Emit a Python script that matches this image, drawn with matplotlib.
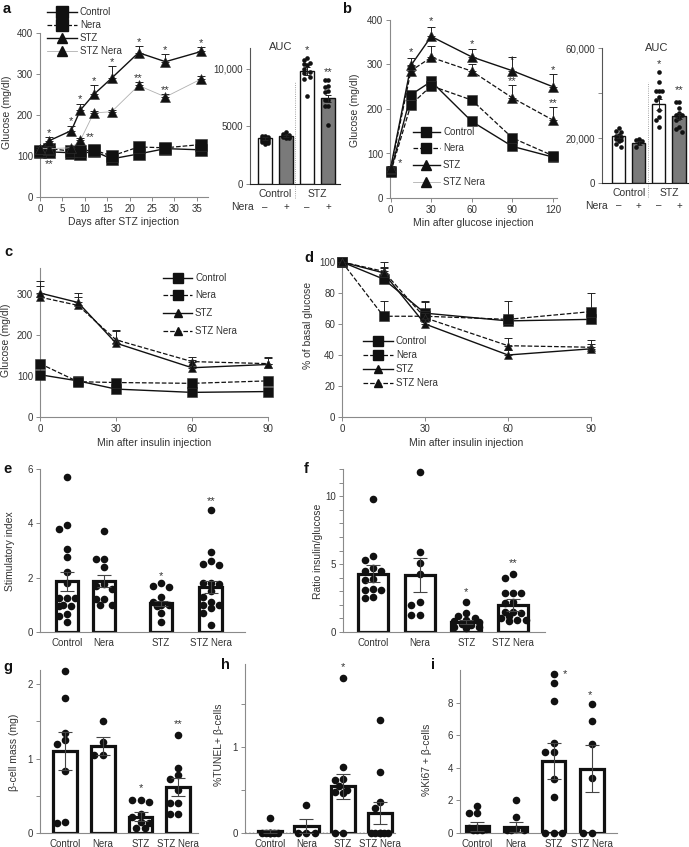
import matplotlib
matplotlib.use('Agg')
import matplotlib.pyplot as plt
import numpy as np
from matplotlib.lines import Line2D

plt.rcParams['font.family'] = ['Liberation Sans', 'DejaVu Sans']
plt.rcParams['font.size'] = 7
W, H = 689, 847
TXT = '#333333'
INK = '#111111'

# ---------------- data ----------------
groups = ['Control', 'Nera', 'STZ', 'STZ Nera']

# a: glucose after STZ
a_days = [0, 2, 7, 9, 12, 16, 22, 28, 36]
a_ctrl = [110, 110, 108, 105, 112, 93, 105, 118, 115]
a_nera = [112, 118, 112, 112, 115, 100, 122, 120, 128]
a_stz = [118, 137, 162, 212, 250, 290, 352, 330, 355]
a_stz_err = [5, 10, 12, 16, 22, 30, 16, 18, 10]
a_stzn = [118, 118, 120, 138, 205, 208, 272, 244, 288]
a_stzn_err = [3, 4, 4, 5, 5, 5, 8, 8, 8]
a_auc_mean = [3950, 4200, 9800, 7450]
a_auc_err = [100, 80, 330, 300]
a_auc_dots = [
    [4200, 4150, 4050, 4000, 3950, 3900, 3850, 3800, 3750, 3700, 3650, 3550, 3500],
    [4500, 4350, 4250, 4200, 4150, 4100, 4100, 4050, 4000, 3950],
    [10900, 10800, 10500, 10400, 10300, 10000, 9700, 9600, 9300, 9100, 7600],
    [9050, 9000, 8500, 8450, 8050, 8000, 7300, 7250, 6800, 6750, 5150],
]

# b: glucose tolerance
b_min = [0, 15, 30, 60, 90, 120]
b_ctrl = [60, 232, 262, 172, 116, 92]
b_nera = [58, 210, 252, 220, 135, 95]
b_nera_err = [0, 0, 0, 10, 0, 0]
b_stz = [68, 298, 363, 317, 286, 250]
b_stz_err = [5, 17, 22, 17, 30, 29]
b_stzn = [65, 286, 316, 285, 225, 175]
b_stzn_err = [4, 10, 25, 16, 29, 29]
b_auc_mean = [20700, 17800, 35000, 29600]
b_auc_err = [700, 900, 2500, 1300]
b_auc_dots = [
    [24500, 23000, 22500, 21500, 21000, 20500, 20000, 19500, 19000, 18500, 17500, 16000],
    [19500, 19200, 18800, 17600, 16000],
    [49300, 44900, 40900, 40900, 40900, 38200, 36700, 32300, 29300, 27900, 24900],
    [36000, 36000, 33500, 31000, 30000, 30000, 28800, 27900, 24900, 24200, 22700],
]

# c: insulin tolerance (mg/dl)
c_min = [0, 15, 30, 60, 90]
c_ctrl = [103, 88, 68, 60, 62]
c_nera = [130, 86, 84, 82, 88]
c_stz = [302, 279, 180, 120, 128]
c_stz_err = [30, 22, 30, 18, 18]
c_stzn = [292, 272, 188, 135, 130]
c_stzn_err = [28, 20, 24, 12, 14]

# d: insulin tolerance (% of basal)
d_min = [0, 15, 30, 60, 90]
d_ctrl = [100, 89, 67, 62, 63]
d_ctrl_err = [0, 11, 8, 2, 2]
d_nera = [100, 65, 65, 63, 68]
d_nera_err = [0, 10, 9, 12, 12]
d_stz = [100, 93, 60, 40, 44]
d_stz_err = [0, 3, 3, 3, 3]
d_stzn = [100, 94, 64, 46, 45]
d_stzn_err = [0, 3, 3, 5, 5]

# e: stimulatory index
e_mean = [1.86, 1.88, 1.05, 1.65]
e_err = [0.35, 0.22, 0.1, 0.22]
e_dots = [
    [5.7, 3.8, 3.95, 3.05, 2.75, 2.2, 1.8, 1.25, 1.25, 1.25, 0.95, 0.95, 1.0, 0.65, 0.6, 0.35],
    [3.7, 2.7, 2.7, 2.4, 1.75, 1.7, 1.6, 1.2, 1.2, 1.0, 1.0],
    [1.8, 1.7, 1.65, 1.3, 1.1, 1.0, 1.0, 0.95, 0.7, 0.35],
    [4.5, 2.95, 2.6, 2.5, 2.45, 1.8, 1.8, 1.75, 1.5, 1.3, 1.1, 1.0, 1.0, 0.9, 0.7, 0.25],
]
e_stars = ['', '', '*', '**']

# f: insulin/glucose ratio
f_mean = [4.3, 4.2, 0.72, 2.0]
f_err = [0.6, 1.25, 0.15, 0.45]
f_dots = [
    [9.8, 5.6, 5.3, 4.7, 4.5, 4.5, 3.9, 3.8, 3.1, 3.1, 3.2, 2.5, 2.6],
    [11.8, 5.9, 5.1, 4.3, 2.2, 2.0, 1.25, 1.25],
    [2.2, 1.4, 1.2, 1.0, 0.9, 0.8, 0.7, 0.6, 0.5, 0.4, 0.35, 0.3],
    [4.3, 4.0, 2.9, 2.85, 2.9, 2.2, 2.1, 1.5, 1.5, 1.4, 1.2, 1.0, 0.9, 0.9, 0.8],
]
f_stars = ['', '', '*', '**']

# g: beta-cell mass
g_mean = [1.1, 1.17, 0.22, 0.62]
g_err = [0.26, 0.12, 0.06, 0.12]
g_dots = [
    [2.17, 1.82, 1.35, 1.2, 1.25, 0.83, 0.13, 0.15],
    [1.5, 1.22, 1.05, 1.05],
    [0.45, 0.44, 0.41, 0.25, 0.22, 0.15, 0.13, 0.07, 0.07],
    [1.32, 0.88, 0.78, 0.72, 0.58, 0.4, 0.4, 0.26, 0.26],
]
g_stars = ['', '', '*', '**']

# h: TUNEL
h_mean = [0.02, 0.08, 0.54, 0.23]
h_err = [0.02, 0.08, 0.14, 0.13]
h_dots = [
    [0.17, 0, 0, 0, 0, 0, 0, 0],
    [0.33, 0, 0, 0],
    [1.8, 0.76, 0.63, 0.62, 0.55, 0.5, 0.48, 0.46, 0, 0],
    [1.31, 0.71, 0.36, 0.29, 0, 0, 0, 0, 0, 0],
]
h_stars = ['', '', '*', '']

# i: Ki67
i_mean = [0.4, 0.35, 4.4, 3.95]
i_err = [0.3, 0.3, 1.1, 1.45]
i_dots = [
    [1.65, 1.2, 1.2, 0.3, 0.3, 0.25, 0.2, 0.2, 0.2],
    [2.0, 1.0, 0.25, 0.2, 0.2, 0.2],
    [9.75, 9.2, 8.1, 5.5, 5.0, 5.0, 3.3, 2.2, 0, 0, 0],
    [7.9, 6.9, 5.45, 3.4, 0, 0],
]


# ---------------- helpers ----------------
def fx(x):
    return x / W


def fy(y):
    return 1 - y / H


def px_axes(fig, left, top, right, bottom):
    return fig.add_axes([left / W, 1 - bottom / H, (right - left) / W, (bottom - top) / H])


def style(ax):
    for s in ['top', 'right']:
        ax.spines[s].set_visible(False)
    for s in ['left', 'bottom']:
        ax.spines[s].set_color('#8a8a8a')
        ax.spines[s].set_linewidth(0.8)
    ax.tick_params(colors=TXT, length=3, width=0.7, color='#8a8a8a', labelsize=7, pad=2)
    ax.tick_params(which='minor', length=3, width=0.7, color='#8a8a8a')
    ax.patch.set_alpha(0)


def ylab(fig, x, y, s):
    fig.text(fx(x), fy(y), s, rotation=90, ha='center', va='center', fontsize=7.5, color=TXT)


def letter(fig, x, y, s):
    fig.text(fx(x), fy(y), s, ha='left', va='center', fontsize=10.5, fontweight='bold', color=INK)


def legend_row(fig, x0, x1, y, ls, lw, color, marker, ms, label):
    fig.add_artist(Line2D([fx(x0), fx(x1)], [fy(y), fy(y)], ls=ls, lw=lw, color=color))
    fig.add_artist(Line2D([fx((x0 + x1) / 2)], [fy(y)], marker=marker, ms=ms, color=INK, ls='none'))
    fig.text(fx(x1 + 3), fy(y), label, va='center', ha='left', fontsize=7, color=TXT)


def series(ax, x, y, err, ls, lw, color, marker, ms, z):
    ax.plot(x, y, ls=ls, lw=lw, color=color, zorder=z, clip_on=False)
    if err is not None:
        ax.errorbar(x, y, yerr=[np.zeros(len(err)), err], fmt='none', ecolor='#222222',
                    elinewidth=0.7, capsize=3, capthick=0.7, zorder=z, clip_on=False)
    ax.plot(x, y, ls='none', marker=marker, ms=ms, color=INK, mec='#333333', mew=0.4,
            zorder=z + 1, clip_on=False)


def swarm(vals, ypx, dpx, maxoff):
    # deterministic beeswarm offsets (pixels)
    vals = np.asarray(vals, float)
    order = np.argsort(-vals, kind='stable')
    st = dpx * 0.55
    cands = [0.0]
    k = 1
    while k * st <= maxoff:
        cands += [-k * st, k * st]
        k += 1
    placed = []
    offs = np.zeros(len(vals))
    for i in order:
        yy = vals[i] * ypx
        best, bestd = 0.0, -1
        for c in cands:
            dmin = min([np.hypot(c - px, yy - py) for px, py in placed] + [1e9])
            if dmin >= dpx * 0.95:
                best = c
                break
            if dmin > bestd:
                best, bestd = c, dmin
        offs[i] = best
        placed.append((best, yy))
    return offs


def dots(ax, pos, dot_lists, step, ypx, dpx, halfw, s):
    for p, d in zip(pos, dot_lists):
        offs = swarm(d, ypx, dpx, halfw)
        ax.scatter(p + offs / step, d, s=s, color=INK, linewidths=0, zorder=3, clip_on=False)


def bar_panel(ax, pos, means, errs, dot_lists, step, ypx, width, stars, star_y):
    ax.bar(pos, means, width=width, color='white', edgecolor=INK, linewidth=2.3, zorder=1)
    dots(ax, pos, dot_lists, step, ypx, 7.5, width * step / 2 - 2, 30)
    ax.errorbar(pos, means, yerr=errs, fmt='none', ecolor='#444444', elinewidth=0.8,
                capsize=5, capthick=0.8, zorder=4)
    for p, st, sy in zip(pos, stars, star_y):
        if st:
            ax.text(p, sy, st, ha='center', va='center', fontsize=8, color=TXT, zorder=6)
    ax.set_xticks(pos)
    ax.set_xticklabels(groups)
    ax.tick_params(axis='x', length=0, pad=4)


fig = plt.figure(figsize=(W / 100, H / 100), dpi=100)

# ---------------- a ----------------
ax = px_axes(fig, 40, 33, 208, 197)
style(ax)
ax.set_xlim(0, 37.5)
ax.set_ylim(0, 400)
ax.set_xticks([0, 5, 10, 15, 20, 25, 30, 35])
ax.set_yticks([0, 100, 200, 300, 400])
series(ax, a_days, a_ctrl, None, '-', 1.0, INK, 's', 8.5, 3)
series(ax, a_days, a_nera, None, '--', 0.9, INK, 's', 8.5, 3)
series(ax, a_days, a_stzn, a_stzn_err, '-', 0.6, '#b0b0b0', '^', 7, 5)
series(ax, a_days, a_stz, a_stz_err, '-', 1.0, INK, '^', 7, 6)
for d, v, e in zip(a_days[1:], a_stz[1:], a_stz_err[1:]):
    ax.text(d, v + e + 10, '*', ha='center', va='center', fontsize=8, color=TXT)
ax.text(2, 80, '**', ha='center', va='center', fontsize=8, color=TXT)
ax.text(11.2, 145, '**', ha='center', va='center', fontsize=8, color=TXT)
for d, v in [(22, 290), (28, 262)]:
    ax.text(d, v, '**', ha='center', va='center', fontsize=8, color=TXT)
ax.set_xlabel('Days after STZ injection', fontsize=7.5, color=TXT, labelpad=2)
ylab(fig, 7, 112, 'Glucose (mg/dl)')
letter(fig, 3, 9, 'a')
legend_row(fig, 47, 77, 12, '-', 1.0, INK, 's', 8, 'Control')
legend_row(fig, 47, 77, 25, '--', 0.9, INK, 's', 8, 'Nera')
legend_row(fig, 47, 77, 38, '-', 1.0, INK, '^', 7, 'STZ')
legend_row(fig, 47, 77, 51, '-', 0.6, '#b0b0b0', '^', 7, 'STZ Nera')


def auc_panel(ax, means, errs, dot_lists, step, ypx, ymax, sep, star_y):
    pos = np.arange(4)
    ax.bar(pos, means, width=0.66, color=['white', '#7a7a7a', 'white', '#7a7a7a'],
           edgecolor=INK, linewidth=1.0, zorder=1)
    dots(ax, pos, dot_lists, step, ypx, 5, 4.5, 11)
    ax.errorbar(pos, means, yerr=errs, fmt='none', ecolor='#222222', elinewidth=0.7,
                capsize=2.5, capthick=0.7, zorder=4)
    ax.plot([sep, sep], [-0.1 * ymax, 0.75 * ymax], ls=':', lw=0.6, color='#888888',
            clip_on=False)
    ax.set_xticks([])
    ax.spines['bottom'].set_color('#222222')
    ax.spines['left'].set_color('#555555')
    tr = ax.get_xaxis_transform()
    ax.text(0.5, -0.035, 'Control', transform=tr, ha='center', va='top', fontsize=7.5, color=TXT)
    ax.text(2.5, -0.035, 'STZ', transform=tr, ha='center', va='top', fontsize=7.5, color=TXT)
    for p, s in zip(pos, ['–', '+', '–', '+']):
        ax.text(p, -0.13, s, transform=tr, ha='center', va='top', fontsize=7, color=TXT)
    ax.text(-0.55, -0.13, 'Nera', transform=tr, ha='right', va='top', fontsize=7.5, color=TXT)
    ax.text(2, star_y[0], '*', ha='center', va='center', fontsize=8, color=TXT)
    ax.text(3, star_y[1], '**', ha='center', va='center', fontsize=8, color=TXT)


# a AUC
ax = px_axes(fig, 250, 48, 340, 184)
style(ax)
ax.set_xlim(-0.71, 3.57)
ax.set_ylim(0, 11800)
ax.set_yticks([0, 5000, 10000])
ax.set_yticklabels(['0', '5000', '10,000'])
auc_panel(ax, a_auc_mean, a_auc_err, a_auc_dots, 21, 136 / 11800, 11800, 1.43, [11600, 9750])
fig.text(fx(281), fy(47), 'AUC', ha='center', va='center', fontsize=8, color=TXT)

# ---------------- b ----------------
ax = px_axes(fig, 390, 20, 557, 198)
style(ax)
ax.set_xlim(-0.5, 123)
ax.set_ylim(0, 400)
ax.set_xticks([0, 30, 60, 90, 120])
ax.set_yticks([0, 100, 200, 300, 400])
series(ax, b_min, b_ctrl, None, '-', 1.0, INK, 's', 7.5, 3)
series(ax, b_min, b_nera, b_nera_err, '--', 0.9, INK, 's', 7.5, 3)
series(ax, b_min, b_stzn, b_stzn_err, '--', 0.9, INK, '^', 6.5, 5)
series(ax, b_min, b_stz, b_stz_err, '-', 1.0, INK, '^', 6.5, 6)
ax.text(5, 78, '*', ha='left', va='center', fontsize=8, color=TXT)
for t, v in zip(b_min[1:], [327, 398, 345, 310, 287]):
    ax.text(t, v, '*', ha='center', va='center', fontsize=8, color=TXT)
for t, v in [(90, 263), (120, 214)]:
    ax.text(t, v, '**', ha='center', va='center', fontsize=8, color=TXT)
ax.set_xlabel('Min after glucose injection', fontsize=7.5, color=TXT, labelpad=2)
ylab(fig, 355, 110, 'Glucose (mg/dl)')
letter(fig, 342, 9, 'b')
legend_row(fig, 413, 440, 132, '-', 1.0, INK, 's', 7, 'Control')
legend_row(fig, 413, 440, 148, '--', 0.9, INK, 's', 7, 'Nera')
legend_row(fig, 413, 440, 165, '-', 1.0, INK, '^', 6.5, 'STZ')
legend_row(fig, 413, 440, 182, '-', 0.6, '#b0b0b0', '^', 6.5, 'STZ Nera')

# b AUC
ax = px_axes(fig, 602, 48, 689, 183)
style(ax)
ax.set_xlim(-0.83, 3.5)
ax.set_ylim(0, 60000)
ax.set_yticks([0, 20000, 40000, 60000])
ax.set_yticklabels(['0', '20,000', '', '60,000'])
auc_panel(ax, b_auc_mean, b_auc_err, b_auc_dots, 20, 135 / 60000, 60000, 1.48, [53000, 41300])
fig.text(fx(657), fy(48), 'AUC', ha='center', va='center', fontsize=8, color=TXT)

# ---------------- c ----------------
ax = px_axes(fig, 40, 268, 268, 417)
style(ax)
ax.set_xlim(0, 90)
ax.set_ylim(0, 363)
ax.set_xticks([0, 30, 60, 90])
ax.set_yticks([0, 100, 200, 300])
series(ax, c_min, c_ctrl, None, '-', 1.0, INK, 's', 7, 3)
series(ax, c_min, c_nera, None, '--', 0.9, INK, 's', 7, 3)
series(ax, c_min, c_stzn, c_stzn_err, '--', 0.9, INK, '^', 6, 5)
series(ax, c_min, c_stz, c_stz_err, '-', 1.0, INK, '^', 6, 6)
ax.set_xlabel('Min after insulin injection', fontsize=7.5, color=TXT, labelpad=3)
ylab(fig, 6, 340, 'Glucose (mg/dl)')
letter(fig, 4, 252, 'c')
legend_row(fig, 163, 192, 278, '-', 1.0, INK, 's', 6.5, 'Control')
legend_row(fig, 163, 192, 295, '--', 0.9, INK, 's', 6.5, 'Nera')
legend_row(fig, 163, 192, 313, '-', 1.0, INK, '^', 6, 'STZ')
legend_row(fig, 163, 192, 331, '--', 0.9, INK, '^', 6, 'STZ Nera')

# ---------------- d ----------------
ax = px_axes(fig, 342, 262, 591, 417)
style(ax)
ax.set_xlim(0, 90)
ax.set_ylim(0, 100)
ax.set_xticks([0, 30, 60, 90])
ax.set_yticks([0, 20, 40, 60, 80, 100])
series(ax, d_min, d_ctrl, d_ctrl_err, '-', 1.0, INK, 's', 7, 3)
series(ax, d_min, d_nera, d_nera_err, '--', 0.9, INK, 's', 7, 3)
series(ax, d_min, d_stzn, d_stzn_err, '--', 0.9, INK, '^', 6, 5)
series(ax, d_min, d_stz, d_stz_err, '-', 1.0, INK, '^', 6, 6)
ax.set_xlabel('Min after insulin injection', fontsize=7.5, color=TXT, labelpad=3)
ylab(fig, 308, 325, '% of basal glucose')
letter(fig, 304, 258, 'd')
legend_row(fig, 363, 393, 341, '-', 1.0, INK, 's', 6.5, 'Control')
legend_row(fig, 363, 393, 355, '--', 0.9, INK, 's', 6.5, 'Nera')
legend_row(fig, 363, 393, 369, '-', 1.0, INK, '^', 6, 'STZ')
legend_row(fig, 363, 393, 383, '--', 0.9, INK, '^', 6, 'STZ Nera')

# ---------------- e ----------------
ax = px_axes(fig, 40, 469, 245, 632)
style(ax)
e_pos = [0, 1, 2.54, 3.89]
ax.set_xlim(-0.73, 4.81)
ax.set_ylim(0, 6)
ax.set_yticks([0, 2, 4, 6])
bar_panel(ax, e_pos, e_mean, e_err, e_dots, 37, 27.2, 0.62, e_stars, [0, 0, 2.05, 4.82])
ylab(fig, 10, 551, 'Stimulatory index')
letter(fig, 3, 469, 'e')

# ---------------- f ----------------
ax = px_axes(fig, 343, 469, 545, 632)
style(ax)
f_pos = [0, 1, 2, 3]
ax.set_xlim(-0.64, 3.68)
ax.set_ylim(0, 12)
ax.set_yticks([0, 5, 10])
ax.set_yticks(np.arange(0, 13, 1), minor=True)
bar_panel(ax, f_pos, f_mean, f_err, f_dots, 46.7, 13.6, 0.64, f_stars, [0, 0, 2.95, 5.1])
ylab(fig, 318, 551, 'Ratio insulin/glucose')
letter(fig, 304, 469, 'f')

# ---------------- g ----------------
ax = px_axes(fig, 40, 670, 198, 833)
style(ax)
g_pos = [0, 1, 2, 3]
ax.set_xlim(-0.66, 3.52)
ax.set_ylim(0, 2.19)
ax.set_yticks([0, 1, 2])
ax.set_yticks([0.5, 1.5], minor=True)
bar_panel(ax, g_pos, g_mean, g_err, g_dots, 37.8, 74.5, 0.63, g_stars, [0, 0, 0.6, 1.46])
ylab(fig, 14, 752, 'β-cell mass (mg)')
letter(fig, 3, 667, 'g')

# ---------------- h ----------------
ax = px_axes(fig, 245, 664, 395, 833)
style(ax)
h_pos = [0, 1, 2, 3]
ax.set_xlim(-0.68, 3.42)
ax.set_ylim(0, 1.96)
ax.set_yticks([0, 1])
ax.set_yticks([0.5, 1.5], minor=True)
ax.axhline(0, ls=':', lw=1.0, color=INK, zorder=5)
bar_panel(ax, h_pos, h_mean, h_err, h_dots, 36.5, 86, 0.66, h_stars, [0, 0, 1.93, 0])
ylab(fig, 219, 745, '%TUNEL+ β-cells')
letter(fig, 221, 665, 'h')

# ---------------- i ----------------
ax = px_axes(fig, 460, 670, 617, 833)
style(ax)
i_pos = [0, 1, 2, 3]
ax.set_xlim(-0.46, 3.67)
ax.set_ylim(0, 10)
ax.set_yticks([0, 2, 4, 6, 8])
bar_panel(ax, i_pos, i_mean, i_err, i_dots, 38, 16.3, 0.63, ['', '', '', ''], [0, 0, 0, 0])
ax.text(2.3, 9.75, '*', ha='center', va='center', fontsize=8, color=TXT)
ax.text(2.97, 8.45, '*', ha='center', va='center', fontsize=8, color=TXT)
ylab(fig, 427, 760, '%Ki67 + β-cells')
letter(fig, 431, 665, 'i')

fig.savefig('out.png', dpi=100)
